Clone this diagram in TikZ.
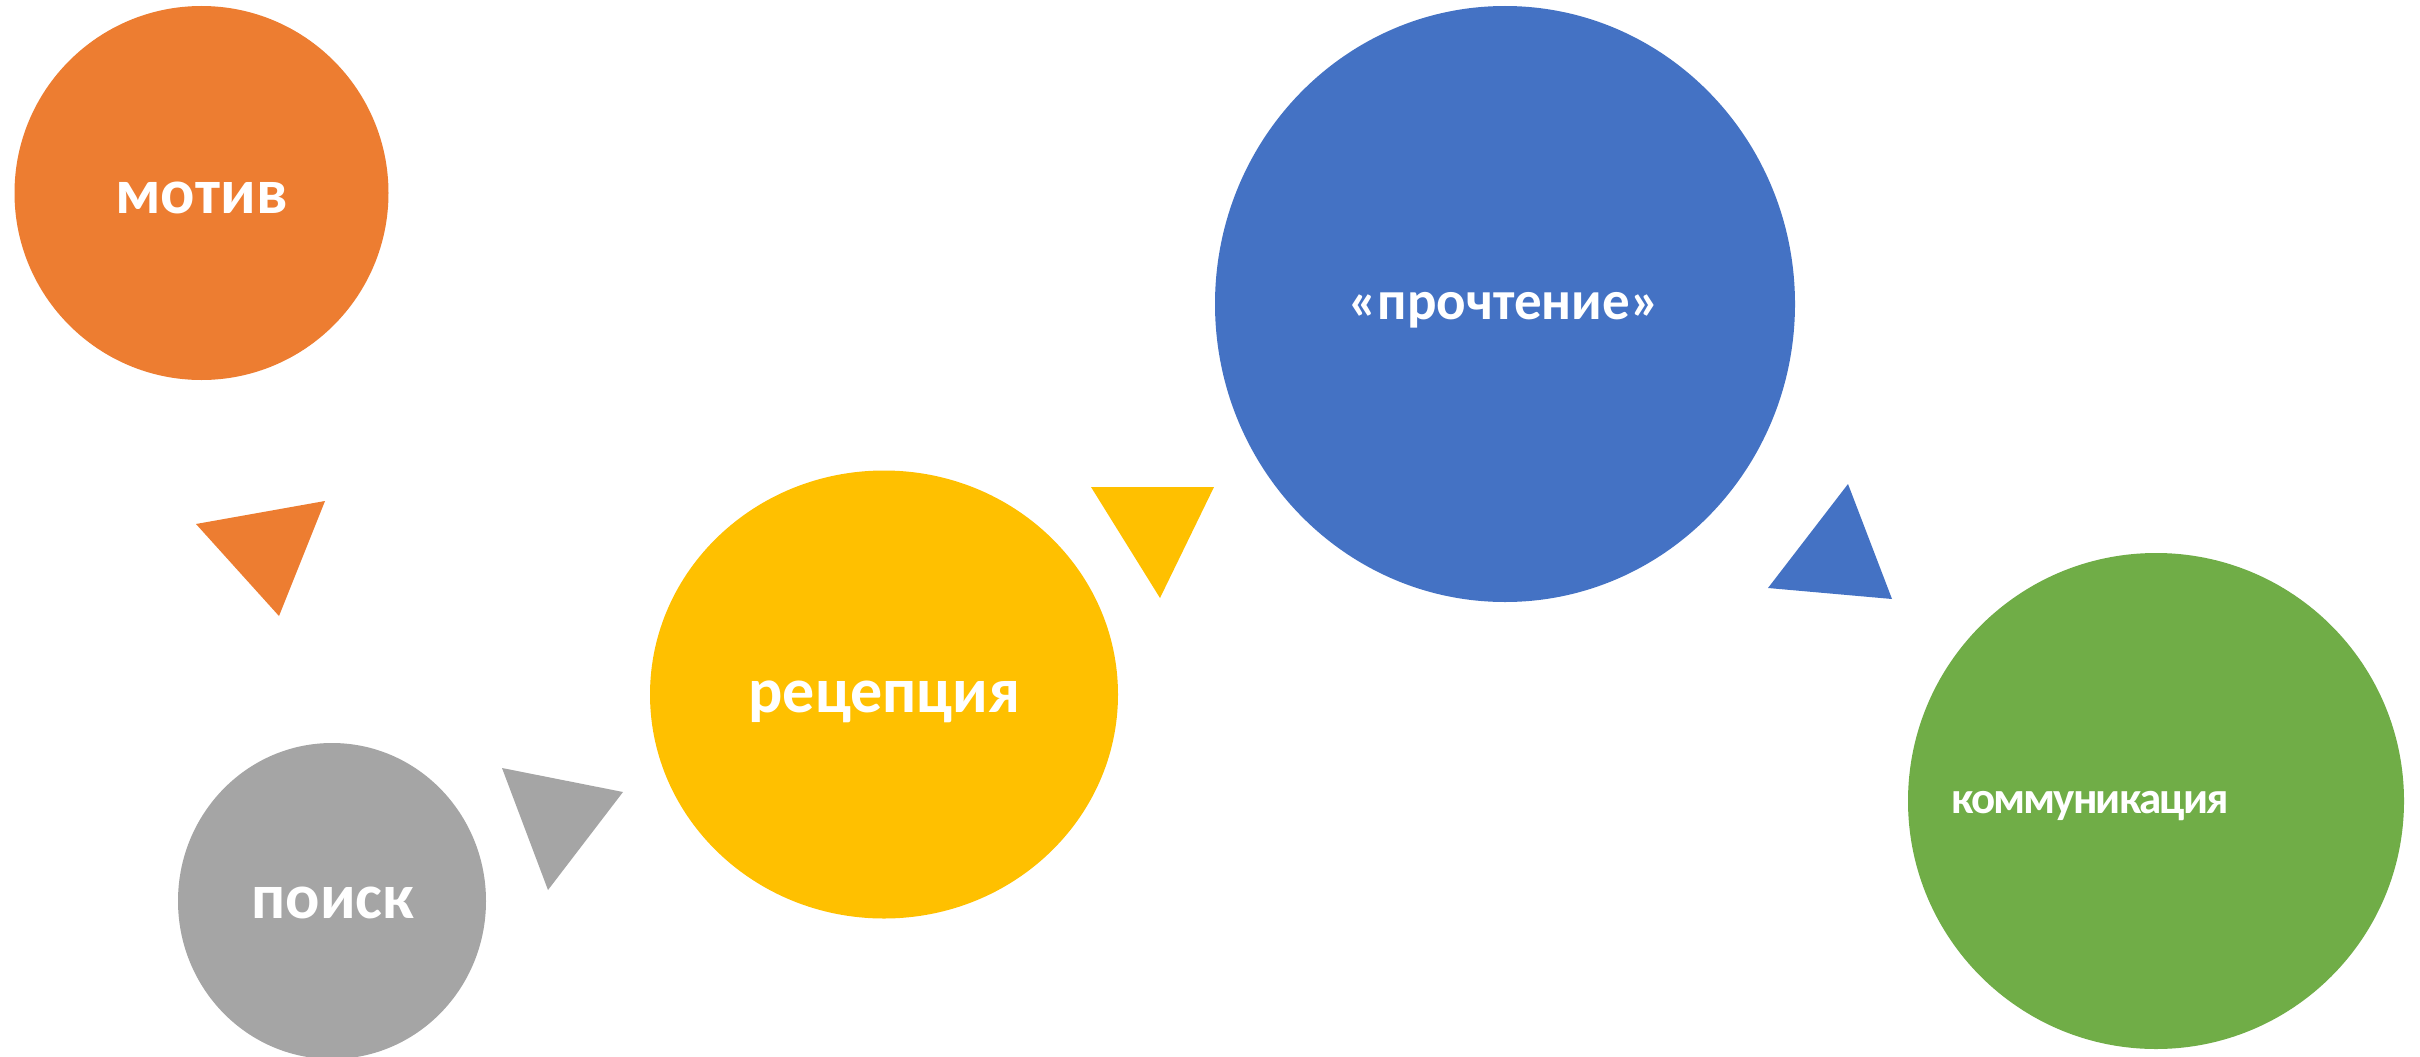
\documentclass[tikz,border=0pt]{standalone}
\usepackage{fontspec}
\setmainfont{Carlito}
\newfontfamily\tightfont[LetterSpace=-4]{Carlito}
\usetikzlibrary{shapes.geometric}
\definecolor{cOrange}{HTML}{ED7D31}
\definecolor{cGray}{HTML}{A5A5A5}
\definecolor{cYellow}{HTML}{FFC000}
\definecolor{cBlue}{HTML}{4472C4}
\definecolor{cGreen}{HTML}{70AD47}
\tikzset{
  blob/.style={ellipse, draw=none, inner sep=0pt},
  lbl/.style={anchor=base, inner sep=0pt, text=white, font=\fontsize{64}{70}\selectfont\bfseries},
}
\begin{document}
\begin{tikzpicture}[x=1pt,y=-1pt]
\useasboundingbox[fill=white] (0,0) rectangle (2420,1057);
% circles / ellipses
\node[blob, fill=cOrange, minimum width=374pt, minimum height=374pt] (motiv) at (201.5,193) {};
\node[blob, fill=cGray, minimum width=308pt, minimum height=316pt] (poisk) at (332,901) {};
\node[blob, fill=cYellow, minimum width=468pt, minimum height=448pt] (recep) at (884,694.5) {};
\node[blob, fill=cBlue, minimum width=580pt, minimum height=596pt] (proch) at (1505,304) {};
\node[blob, fill=cGreen, minimum width=496pt, minimum height=496pt] (komm) at (2156,801) {};
% labels
\node[lbl] (tmotiv) at (201.5,213) {мотив};
\node[lbl, font=\fontsize{55}{60}\selectfont\bfseries] (tproch) at (1504,319) {«прочтение»};
\node[lbl] (tpoisk) at (333,918) {поиск};
\node[lbl] (trecep) at (884.5,712) {рецепция};
\node[lbl, font=\fontsize{45}{50}\selectfont\tightfont\bfseries] (tkomm) at (2090,813) {коммуникация};
% triangles
\coordinate (o1) at (196,524); \coordinate (o2) at (325,501); \coordinate (o3) at (279,616);
\fill[cOrange] (o1) -- (o2) -- (o3) -- cycle;
\coordinate (g1) at (502,768); \coordinate (g2) at (623,792); \coordinate (g3) at (548,890);
\fill[cGray] (g1) -- (g2) -- (g3) -- cycle;
\coordinate (y1) at (1091,487); \coordinate (y2) at (1214,487); \coordinate (y3) at (1160,598);
\fill[cYellow] (y1) -- (y2) -- (y3) -- cycle;
\coordinate (b1) at (1848,484); \coordinate (b2) at (1892,599); \coordinate (b3) at (1768,588);
\fill[cBlue] (b1) -- (b2) -- (b3) -- cycle;
\end{tikzpicture}
\end{document}
